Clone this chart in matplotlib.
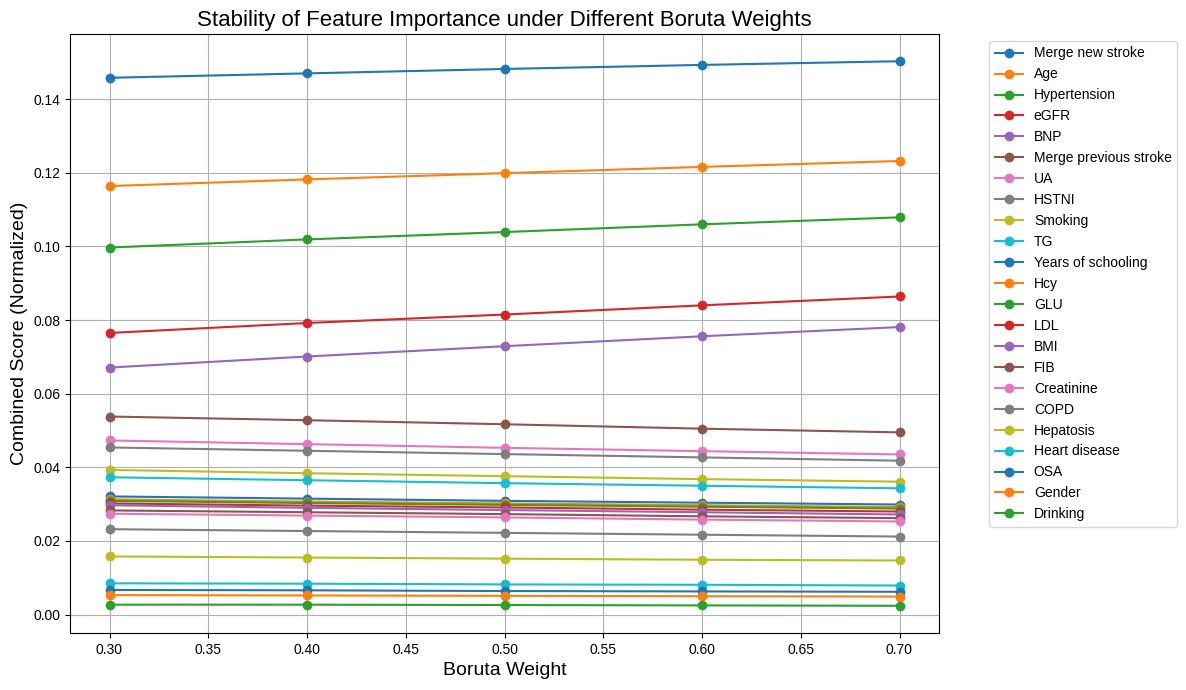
import matplotlib
matplotlib.use("Agg")
import matplotlib.pyplot as plt

plt.rcParams['font.family'] = ['Liberation Sans', 'DejaVu Sans']

weights = [0.30, 0.40, 0.50, 0.60, 0.70]

features = ["Merge new stroke", "Age", "Hypertension", "eGFR", "BNP",
            "Merge previous stroke", "UA", "HSTNI", "Smoking", "TG",
            "Years of schooling", "Hcy", "GLU", "LDL", "BMI", "FIB",
            "Creatinine", "COPD", "Hepatosis", "Heart disease", "OSA",
            "Gender", "Drinking"]

merge_new_stroke = [0.1458, 0.1470, 0.1482, 0.1493, 0.1503]
age = [0.1164, 0.1182, 0.1199, 0.1216, 0.1232]
hypertension = [0.0997, 0.1019, 0.1039, 0.1060, 0.1079]
egfr = [0.0765, 0.0792, 0.0815, 0.0840, 0.0864]
bnp = [0.0671, 0.0701, 0.0729, 0.0756, 0.0781]
merge_prev_stroke = [0.0538, 0.0528, 0.0517, 0.0505, 0.0495]
ua = [0.0473, 0.0463, 0.0453, 0.0444, 0.0435]
hstni = [0.0454, 0.0445, 0.0436, 0.0427, 0.0418]
smoking = [0.0393, 0.0384, 0.0376, 0.0368, 0.0361]
tg = [0.0373, 0.0365, 0.0357, 0.0350, 0.0343]
years_schooling = [0.0321, 0.0315, 0.0309, 0.0304, 0.0299]
hcy = [0.0313, 0.0307, 0.0302, 0.0297, 0.0292]
glu = [0.0309, 0.0303, 0.0298, 0.0293, 0.0288]
ldl = [0.0302, 0.0296, 0.0291, 0.0285, 0.0280]
bmi = [0.0297, 0.0290, 0.0284, 0.0278, 0.0272]
fib = [0.0283, 0.0278, 0.0273, 0.0267, 0.0262]
creatinine = [0.0274, 0.0269, 0.0264, 0.0258, 0.0253]
copd = [0.0232, 0.0227, 0.0222, 0.0217, 0.0212]
hepatosis = [0.0158, 0.0155, 0.0152, 0.0149, 0.0147]
heart_disease = [0.0085, 0.0084, 0.0082, 0.0081, 0.0079]
osa = [0.0067, 0.0066, 0.0064, 0.0063, 0.0062]
gender = [0.0053, 0.0052, 0.0051, 0.0050, 0.0049]
drinking = [0.0027, 0.0027, 0.0026, 0.0025, 0.0024]

series = [merge_new_stroke, age, hypertension, egfr, bnp, merge_prev_stroke,
          ua, hstni, smoking, tg, years_schooling, hcy, glu, ldl, bmi, fib,
          creatinine, copd, hepatosis, heart_disease, osa, gender, drinking]

fig, ax = plt.subplots(figsize=(11.86, 6.9), dpi=100)
for name, vals in zip(features, series):
    ax.plot(weights, vals, marker='o', label=name)

ax.set_title("Stability of Feature Importance under Different Boruta Weights", fontsize=16)
ax.set_xlabel("Boruta Weight", fontsize=14)
ax.set_ylabel("Combined Score (Normalized)", fontsize=14)
ax.grid(True)
ax.legend(bbox_to_anchor=(1.05, 1), loc='upper left')
fig.subplots_adjust(left=70/1186, right=939/1186, top=1-34/690, bottom=1-633/690)
fig.savefig("out.png", dpi=100)
